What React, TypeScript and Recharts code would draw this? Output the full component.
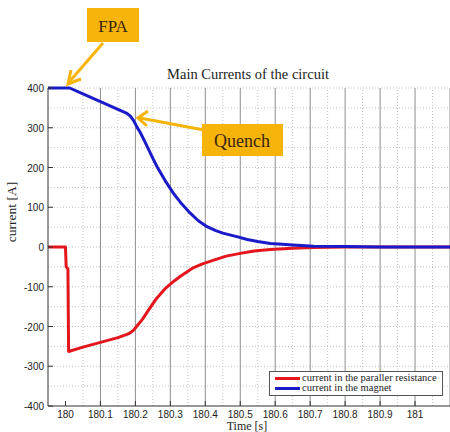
import { LineChart, Line, XAxis, YAxis, ReferenceLine, Legend } from 'recharts'

// Time axis in seconds, currents in amperes
const xTicks = [180, 180.1, 180.2, 180.3, 180.4, 180.5, 180.6, 180.7, 180.8, 180.9, 181]
const yTicks = [-400, -300, -200, -100, 0, 100, 200, 300, 400]
const majorGridX = [180.1, 180.2, 180.3, 180.4, 180.5, 180.6, 180.7, 180.8, 180.9, 181, 181.1]
const minorGridX = [180.05, 180.15, 180.25, 180.35, 180.45, 180.55, 180.65, 180.75, 180.85, 180.95, 181.05]
const gridY = [-350, -300, -250, -200, -150, -100, -50, 0, 50, 100, 150, 200, 250, 300, 350, 400]

const magnetTime = [179.95, 180.0, 180.012, 180.05, 180.1, 180.15, 180.176, 180.185, 180.195, 180.205, 180.214, 180.226, 180.238, 180.25, 180.262, 180.285, 180.309, 180.333, 180.357, 180.38, 180.405, 180.43, 180.45, 180.49, 180.52, 180.55, 180.586, 180.62, 180.65, 180.71, 180.8, 180.9, 181.0, 181.1]
const magnetCurrent = [400, 400, 400, 385, 366, 346, 336, 330, 318, 301, 288, 267, 245, 223, 202, 167, 135, 108, 85, 66, 51, 41, 35, 26, 19, 14, 9, 7, 5, 2, 1, 0, 0, 0]

const resistTime = [179.95, 180.0, 180.002, 180.007, 180.009, 180.05, 180.1, 180.15, 180.176, 180.185, 180.195, 180.205, 180.22, 180.238, 180.26, 180.286, 180.31, 180.33, 180.362, 180.39, 180.424, 180.46, 180.5, 180.54, 180.586, 180.65, 180.71, 180.8, 181.0, 181.1]
const resistCurrent = [0, 0, -50, -55, -263, -252, -240, -228, -220, -216, -209, -198, -182, -158, -130, -104, -86, -73, -54, -43, -33, -23, -16, -10, -6, -3, -1, 0, 0, 0]

const series = [
  { name: 'current in the paraller resistance', color: '#e3161d', t: resistTime, v: resistCurrent },
  { name: 'current in the magnet', color: '#1a1ac8', t: magnetTime, v: magnetCurrent },
]

const sans = '"Liberation Sans", Arial, sans-serif'
const serif = '"Liberation Serif", "Times New Roman", serif'
const orange = '#f6b40a'

const XTick = ({ x, y, payload }: any) => (
  <g>
    <line x1={x} x2={x} y1={y} y2={y - 5} stroke="#333" />
    <text x={x} y={y + 12} textAnchor="middle" fontSize={10} fill="#222" fontFamily={sans}>
      {Number(payload.value.toFixed(1)).toString()}
    </text>
  </g>
)

const YTick = ({ x, y, payload }: any) => (
  <g>
    <line x1={x} x2={x + 5} y1={y} y2={y} stroke="#333" />
    <text x={x - 4} y={y + 4} textAnchor="end" fontSize={10} fill="#222" fontFamily={sans}>
      {payload.value}
    </text>
  </g>
)

const LegendBox = () => (
  <div style={{ width: 172, height: 21, border: '1px solid #555', background: '#fff', padding: '1px 0', fontFamily: serif, fontSize: 10.5, color: '#222' }}>
    {series.map((s) => (
      <div key={s.name} style={{ display: 'flex', alignItems: 'center', height: 10, lineHeight: '10px', whiteSpace: 'nowrap' }}>
        <div style={{ width: 25, height: 3, background: s.color, marginLeft: 5, marginRight: 2 }} />
        <span>{s.name}</span>
      </div>
    ))}
  </div>
)

export default function App() {
  return (
    <div style={{ position: 'fixed', left: 0, top: 0, width: 450, height: 432, background: '#fff' }}>
      <LineChart width={450} height={432} margin={{ top: 88, right: 0, bottom: 0, left: 0 }}>
        <XAxis
          type="number"
          dataKey="t"
          domain={[179.95, 181.1]}
          ticks={xTicks}
          interval={0}
          allowDataOverflow
          height={26}
          tickSize={0}
          tickMargin={0}
          tick={<XTick />}
          stroke="#333"
        />
        <YAxis
          type="number"
          domain={[-400, 400]}
          ticks={yTicks}
          interval={0}
          width={48}
          tickSize={0}
          tickMargin={0}
          tick={<YTick />}
          stroke="#333"
        />
        {gridY.map((v) => (
          <ReferenceLine key={'h' + v} y={v} stroke="#c4c4c4" strokeDasharray="1 2" />
        ))}
        {minorGridX.map((v) => (
          <ReferenceLine key={'m' + v} x={v} stroke="#c4c4c4" strokeDasharray="1 2" />
        ))}
        {majorGridX.map((v) => (
          <ReferenceLine key={'M' + v} x={v} stroke="#8e8e8e" />
        ))}
        {series.map((s) => (
          <Line
            key={s.name}
            name={s.name}
            data={s.t.map((t, i) => ({ t, v: s.v[i] }))}
            dataKey="v"
            type="linear"
            stroke={s.color}
            strokeWidth={3}
            strokeLinejoin="round"
            dot={false}
            isAnimationActive={false}
          />
        ))}
        <Legend
          layout="horizontal"
          verticalAlign="middle"
          align="center"
          content={<LegendBox />}
          wrapperStyle={{ left: 269, top: 371, width: 174 }}
        />
      </LineChart>

      <svg width={450} height={432} style={{ position: 'absolute', left: 0, top: 0, pointerEvents: 'none' }}>
        <text x={248} y={79} textAnchor="middle" fontSize={14.5} fill="#222" fontFamily={serif}>
          Main Currents of the circuit
        </text>
        <text x={247} y={430} textAnchor="middle" fontSize={12} fill="#222" fontFamily={serif}>
          Time [s]
        </text>
        <text transform="translate(16,212) rotate(-90)" textAnchor="middle" fontSize={13.5} fill="#222" fontFamily={serif}>
          current [A]
        </text>

        {/* FPA annotation */}
        <line x1={103} y1={43} x2={70} y2={81} stroke={orange} strokeWidth={3} />
        <polyline points="71,70 68,84 81,79" fill="none" stroke={orange} strokeWidth={3} />
        <rect x={87} y={8} width={52} height={34} fill={orange} />
        <text x={113} y={32} textAnchor="middle" fontSize={17} fill="#3a2510" fontFamily={serif}>
          FPA
        </text>

        {/* Quench annotation */}
        <line x1={204} y1={130} x2={140} y2={118} stroke={orange} strokeWidth={3} />
        <polyline points="148,111 138,118 147,126" fill="none" stroke={orange} strokeWidth={3} />
        <rect x={202} y={124} width={81} height={32} fill={orange} />
        <text x={242} y={147} textAnchor="middle" fontSize={18} fill="#3a2510" fontFamily={serif}>
          Quench
        </text>
      </svg>
    </div>
  )
}
